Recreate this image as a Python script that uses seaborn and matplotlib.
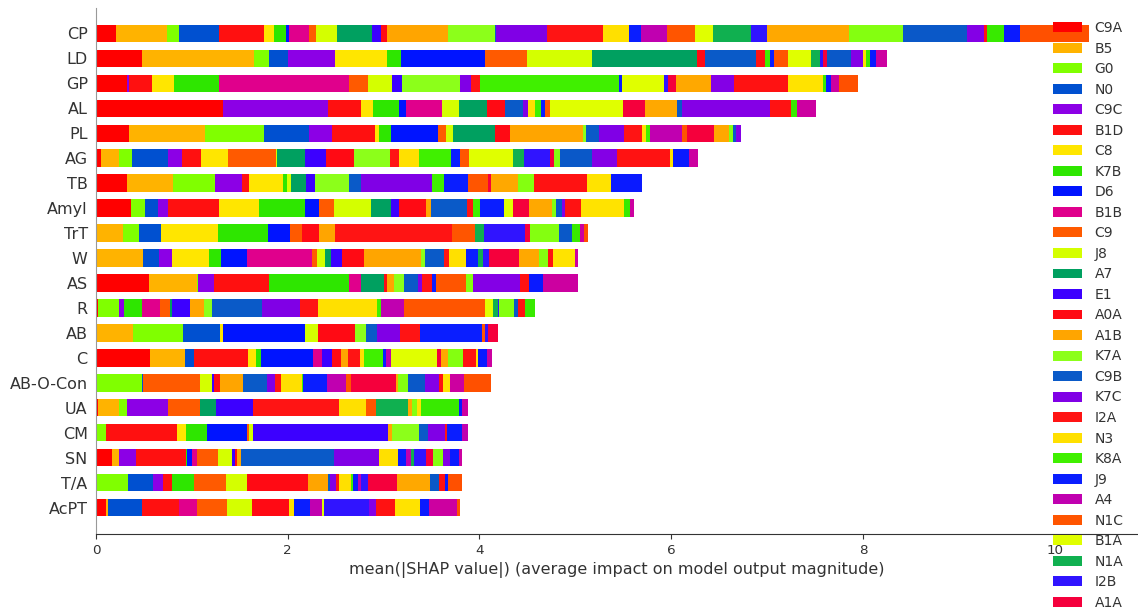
import numpy as np
import pandas as pd
import seaborn as sns
import matplotlib
matplotlib.use("Agg")
from matplotlib import pyplot as plt
from matplotlib.patches import Patch

features = ["CP", "LD", "GP", "AL", "PL", "AG", "TB", "Amyl", "TrT", "W",
            "AS", "R", "AB", "C", "AB-O-Con", "UA", "CM", "SN", "T/A", "AcPT"]

# legend only shows the first 29 classes, the rest run off the bottom of the figure
class_names = ["C9A", "B5", "G0", "N0", "C9C", "B1D", "C8", "K7B", "D6", "B1B",
               "C9", "J8", "A7", "E1", "A0A", "A1B", "K7A", "C9B", "K7C", "I2A",
               "N3", "K8A", "J9", "A4", "N1C", "B1A", "N1A", "I2B", "A1A"]
n_classes = 39

# mean |SHAP| per class (stack order) for each feature
cp = [0.205, 0.532, 0.128, 0.417, 0.0, 0.469, 0.101, 0.125, 0.034, 0.216,
      0.063, 0.219, 0.371, 0.091, 0.066, 0.636, 0.487, 0.01, 0.532, 0.591,
      0.271, 0.0, 0.118, 0.271, 0.295, 0.188, 0.400, 0.167, 0.0, 0.851,
      0.567, 0.667, 0.180, 0.028, 0.0, 0.173, 0.174, 0.0, 0.712]
ld = [0.477, 1.174, 0.156, 0.192, 0.493, 0.0, 0.545, 0.140, 0.886, 0.0,
      0.434, 0.672, 1.101, 0.0, 0.088, 0.0, 0.0, 0.532, 0.0, 0.094,
      0.0, 0.045, 0.045, 0.0, 0.140, 0.240, 0.097, 0.034, 0.042, 0.0,
      0.0, 0.254, 0.121, 0.0, 0.035, 0.042, 0.063, 0.111, 0.0]
gp = [0.326, 0.0, 0.0, 0.0, 0.018, 0.240, 0.229, 0.472, 0.0, 1.356,
      0.198, 0.244, 0.0, 0.104, 0.0, 0.0, 0.608, 0.0, 0.115, 0.094,
      0.0, 1.453, 0.025, 0.0, 0.0, 0.444, 0.0, 0.042, 0.080, 0.365,
      0.0, 0.0, 0.240, 0.566, 0.365, 0.035, 0.045, 0.087, 0.198]
al = [1.327, 0.0, 0.0, 0.0, 1.089, 0.347, 0.128, 0.271, 0.077, 0.371,
      0.0, 0.174, 0.299, 0.0, 0.188, 0.0, 0.0, 0.184, 0.052, 0.0,
      0.070, 0.063, 0.042, 0.0, 0.059, 0.757, 0.0, 0.0, 0.226, 0.341,
      0.0, 0.052, 0.910, 0.219, 0.0, 0.070, 0.0, 0.191, 0.0]
pl = [0.347, 0.789, 0.615, 0.469, 0.243, 0.445, 0.042, 0.125, 0.493, 0.0,
      0.080, 0.076, 0.435, 0.0, 0.156, 0.764, 0.035, 0.131, 0.268, 0.180,
      0.046, 0.042, 0.0, 0.334, 0.052, 0.0, 0.0, 0.0, 0.277, 0.164,
      0.034, 0.035, 0.052, 0.0, 0.0, 0.0, 0.0, 0.0, 0.0]
ag = [0.049, 0.191, 0.132, 0.375, 0.146, 0.201, 0.278, 0.0, 0.0, 0.0,
      0.501, 0.017, 0.289, 0.219, 0.295, 0.0, 0.372, 0.0, 0.0, 0.094,
      0.209, 0.331, 0.097, 0.0, 0.094, 0.462, 0.115, 0.268, 0.045, 0.0,
      0.059, 0.337, 0.254, 0.556, 0.034, 0.0, 0.161, 0.094, 0.0]
tb = [0.320, 0.486, 0.435, 0.0, 0.285, 0.073, 0.355, 0.042, 0.0, 0.0,
      0.0, 0.035, 0.160, 0.094, 0.0, 0.0, 0.355, 0.125, 0.743, 0.0,
      0.0, 0.125, 0.244, 0.0, 0.215, 0.0, 0.0, 0.0, 0.028, 0.285,
      0.167, 0.0, 0.0, 0.546, 0.250, 0.0, 0.330, 0.0, 0.0]
amyl = [0.365, 0.0, 0.146, 0.139, 0.098, 0.538, 0.414, 0.480, 0.146, 0.0,
        0.160, 0.383, 0.205, 0.087, 0.278, 0.055, 0.0, 0.379, 0.0, 0.063,
        0.0, 0.070, 0.250, 0.0, 0.0, 0.097, 0.0, 0.0, 0.167, 0.234,
        0.045, 0.059, 0.034, 0.164, 0.452, 0.063, 0.0, 0.042, 0.0]
trt = [0.0, 0.278, 0.170, 0.226, 0.0, 0.0, 0.601, 0.521, 0.226, 0.0,
       0.128, 0.0, 0.0, 0.0, 0.174, 0.167, 0.0, 0.0, 0.0, 1.223,
       0.0, 0.0, 0.0, 0.0, 0.237, 0.0, 0.097, 0.424, 0.059, 0.0,
       0.295, 0.143, 0.0, 0.0, 0.0, 0.076, 0.0, 0.042, 0.045]
w = [0.0, 0.493, 0.0, 0.167, 0.136, 0.0, 0.383, 0.125, 0.274, 0.672,
     0.058, 0.080, 0.063, 0.112, 0.233, 0.594, 0.042, 0.198, 0.0, 0.055,
     0.174, 0.0, 0.128, 0.0, 0.0, 0.0, 0.046, 0.066, 0.316, 0.209,
     0.094, 0.0, 0.0, 0.046, 0.233, 0.0, 0.0, 0.034, 0.0]
as_ = [0.556, 0.494, 0.010, 0.0, 0.170, 0.577, 0.0, 0.831, 0.0, 0.122,
       0.0, 0.0, 0.243, 0.0, 0.028, 0.076, 0.107, 0.146, 0.042, 0.098,
       0.0, 0.0, 0.052, 0.0, 0.313, 0.0, 0.0, 0.0, 0.0, 0.0,
       0.063, 0.0, 0.493, 0.097, 0.0, 0.0, 0.140, 0.365, 0.0]
r = [0.024, 0.0, 0.216, 0.0, 0.055, 0.0, 0.0, 0.181, 0.0, 0.191,
     0.104, 0.0, 0.024, 0.185, 0.0, 0.146, 0.080, 0.528, 0.393, 0.191,
     0.615, 0.035, 0.0, 0.243, 0.845, 0.087, 0.046, 0.017, 0.0, 0.0,
     0.156, 0.042, 0.0, 0.070, 0.0, 0.104, 0.0, 0.0, 0.0]
ab = [0.0, 0.389, 0.521, 0.383, 0.0, 0.0, 0.034, 0.0, 0.852, 0.0,
      0.0, 0.139, 0.0, 0.0, 0.383, 0.0, 0.112, 0.115, 0.243, 0.209,
      0.0, 0.0, 0.643, 0.0, 0.034, 0.0, 0.0, 0.034, 0.098, 0.0,
      0.0, 0.0, 0.0, 0.0, 0.0, 0.0, 0.0, 0.0, 0.0]
c = [0.563, 0.365, 0.0, 0.094, 0.0, 0.566, 0.080, 0.049, 0.548, 0.094,
     0.0, 0.0, 0.0, 0.108, 0.094, 0.063, 0.0, 0.0, 0.0, 0.128,
     0.045, 0.198, 0.035, 0.052, 0.0, 0.476, 0.0, 0.0, 0.039, 0.076,
     0.156, 0.0, 0.0, 0.140, 0.017, 0.0, 0.088, 0.052, 0.0]
abocon = [0.0, 0.0, 0.477, 0.017, 0.0, 0.0, 0.0, 0.0, 0.0, 0.0,
          0.591, 0.128, 0.0, 0.021, 0.059, 0.237, 0.0, 0.250, 0.087, 0.059,
          0.225, 0.010, 0.250, 0.202, 0.045, 0.0, 0.0, 0.0, 0.469, 0.024,
          0.104, 0.174, 0.146, 0.045, 0.070, 0.0, 0.0, 0.146, 0.289]
ua = [0.024, 0.216, 0.080, 0.0, 0.434, 0.0, 0.0, 0.0, 0.0, 0.0,
      0.331, 0.0, 0.167, 0.383, 0.0, 0.0, 0.0, 0.0, 0.0, 0.903,
      0.275, 0.0, 0.0, 0.0, 0.107, 0.0, 0.331, 0.0, 0.0, 0.042,
      0.052, 0.0, 0.0, 0.0, 0.045, 0.396, 0.028, 0.063, 0.0]
cm = [0.0, 0.0, 0.101, 0.0, 0.0, 0.747, 0.091, 0.222, 0.417, 0.0,
      0.021, 0.035, 0.0, 1.414, 0.0, 0.035, 0.285, 0.091, 0.180, 0.024,
      0.0, 0.0, 0.150, 0.063, 0.0, 0.0, 0.0, 0.0, 0.0, 0.0,
      0.0, 0.0, 0.0, 0.0, 0.0, 0.0, 0.0, 0.0, 0.0]
sn = [0.164, 0.076, 0.0, 0.0, 0.177, 0.518, 0.0, 0.017, 0.046, 0.052,
      0.225, 0.146, 0.0, 0.028, 0.018, 0.042, 0.0, 0.976, 0.469, 0.0,
      0.198, 0.0, 0.077, 0.055, 0.0, 0.0, 0.031, 0.125, 0.076, 0.0,
      0.104, 0.0, 0.070, 0.0, 0.0, 0.0, 0.097, 0.031, 0.0]
ta = [0.0, 0.0, 0.337, 0.261, 0.098, 0.094, 0.0, 0.233, 0.0, 0.0,
      0.334, 0.222, 0.0, 0.0, 0.636, 0.202, 0.0, 0.024, 0.059, 0.034,
      0.122, 0.027, 0.052, 0.025, 0.0, 0.0, 0.0, 0.079, 0.302, 0.341,
      0.0, 0.094, 0.0, 0.063, 0.0, 0.0, 0.034, 0.0, 0.140]
acpt = [0.104, 0.024, 0.0, 0.348, 0.0, 0.392, 0.0, 0.0, 0.0, 0.181,
        0.313, 0.267, 0.0, 0.0, 0.383, 0.0, 0.0, 0.0, 0.0, 0.0,
        0.055, 0.0, 0.164, 0.122, 0.0, 0.027, 0.0, 0.466, 0.0, 0.0,
        0.0, 0.0, 0.073, 0.198, 0.261, 0.0, 0.097, 0.296, 0.024]

shap_rows = [cp, ld, gp, al, pl, ag, tb, amyl, trt, w,
             as_, r, ab, c, abocon, ua, cm, sn, ta, acpt]

# colours repeat with a period of 14
colors = ["#ff0000", "#ffb300", "#80ff00", "#0050d0", "#8c00e6", "#ff1010", "#ffe600",
          "#2ee600", "#0014ff", "#e0008c", "#ff5a00", "#d4ff00", "#00a060", "#3c00ff",
          "#ff0a14", "#ffa500", "#8cff1a", "#0a5ac8", "#8000e6", "#ff1414", "#ffe000",
          "#40f000", "#0a1eff", "#c000b0", "#ff5500", "#e0ff00", "#10b050", "#3014ff",
          "#f5003c", "#ffa800", "#84ff10", "#0a58c8", "#8400e6", "#ff1212", "#ffe300",
          "#38ea00", "#0a1aff", "#cc00a0", "#ff5000"]

rows = []
for f, vals in zip(features, shap_rows):
    for k, v in enumerate(vals):
        rows.append((f, k, v))
df = pd.DataFrame(rows, columns=["feature", "cls", "value"])

sns.set_style("ticks")
plt.rcParams["font.family"] = ["DejaVu Sans"]

fig = plt.figure(figsize=(11.38, 6.08), dpi=100)
ax = fig.add_axes([96 / 1138, 74 / 608, 1042 / 1138, 526 / 608])

# seaborn stacks the last hue level at the base, so reverse the order
sns.histplot(data=df, y="feature", hue="cls", weights="value", multiple="stack",
             discrete=True, shrink=0.7, hue_order=list(range(n_classes))[::-1],
             palette=dict(zip(range(n_classes), colors)), linewidth=0, alpha=1,
             legend=False, ax=ax)

ax.set_xlim(0, 10.87)
ax.set_ylim(20.06, -1.02)
ax.set_xticks([0, 2, 4, 6, 8, 10])
ax.set_yticks(range(len(features)))
ax.set_yticklabels(features)
ax.set_ylabel("")
ax.set_xlabel("mean(|SHAP value|) (average impact on model output magnitude)",
              fontsize=11.5, color="#333333")
ax.tick_params(axis="y", length=0, pad=6, labelsize=11.5, labelcolor="#333333")
ax.tick_params(axis="x", labelsize=9.7, labelcolor="#333333", color="#333333")
for s in ["top", "right"]:
    ax.spines[s].set_visible(False)
ax.spines["left"].set_color("#999999")
ax.spines["bottom"].set_color("#333333")

handles = [Patch(facecolor=colors[i], edgecolor="none") for i in range(len(class_names))]
fig.legend(handles, class_names, loc="upper left",
           bbox_to_anchor=(1053 / 1138, 1 - 21 / 608), frameon=False,
           fontsize=10, handlelength=2.1, handleheight=0.72, handletextpad=0.9,
           labelspacing=0.47, borderpad=0, borderaxespad=0, labelcolor="#333333")

fig.savefig("out.png", dpi=100)
